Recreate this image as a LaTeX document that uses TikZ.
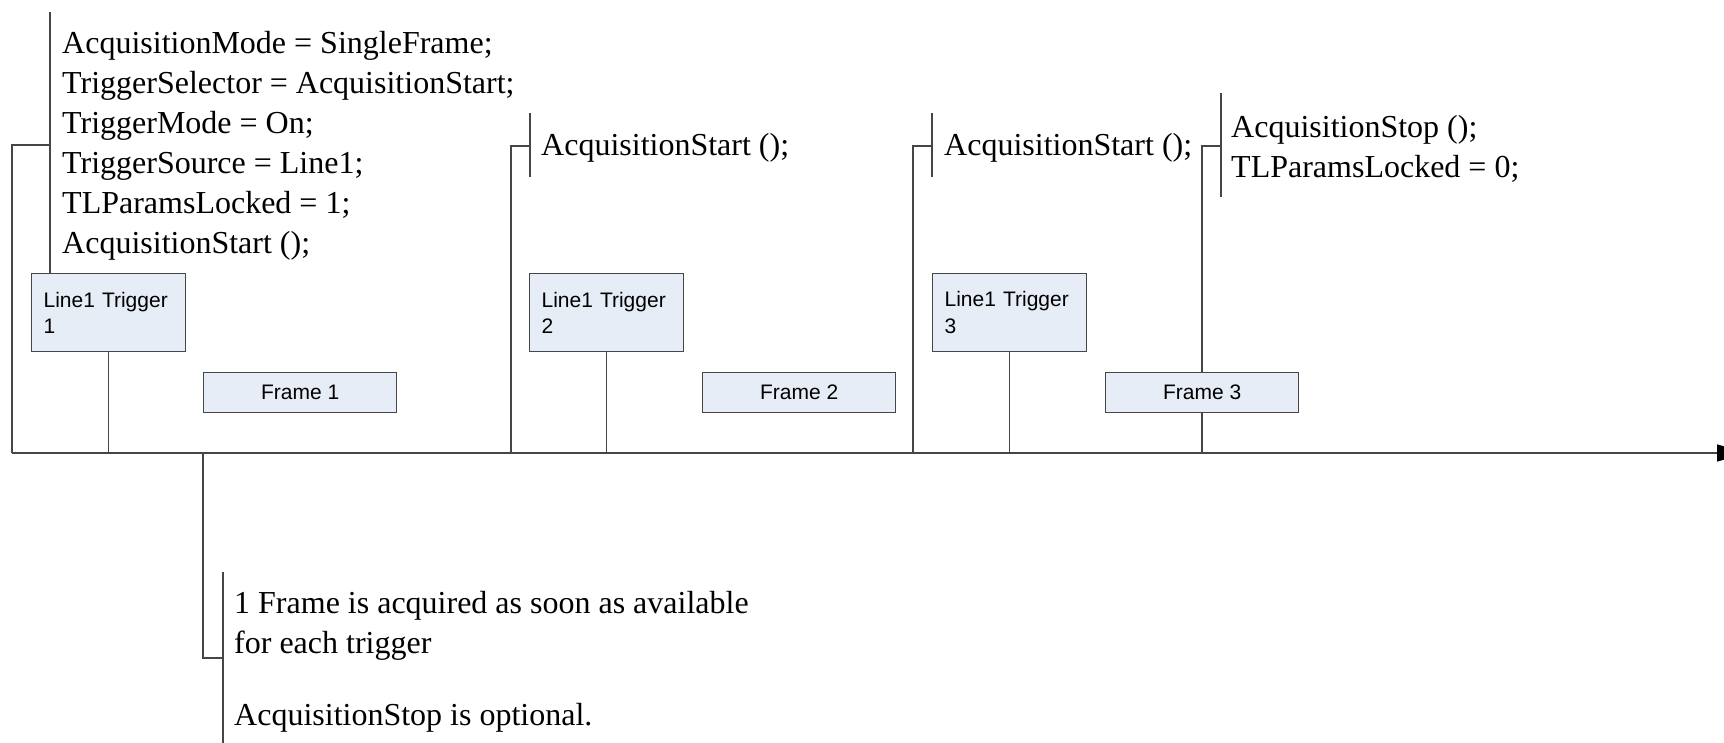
\documentclass[tikz,border=0pt]{standalone}
\usepackage{fontspec}
\setmainfont{Liberation Serif}
\newfontfamily\boxfont{Liberation Sans}
\usetikzlibrary{arrows.meta,backgrounds}
\definecolor{linegray}{RGB}{70,70,70}
\definecolor{boxfill}{RGB}{231,237,247}
\begin{document}
\begin{tikzpicture}[x=1pt,y=-1pt,
  line/.style={draw=linegray, line width=1.3pt},
  note/.style={font=\fontsize{32}{40}\selectfont, anchor=base west, inner sep=0pt, align=left, text=black},
  trig/.style={draw=linegray, line width=1.3pt, fill=boxfill, font=\boxfont\fontsize{21}{26.5}\selectfont, text width=130pt, align=left, minimum height=78pt, inner xsep=12pt, inner ysep=0pt, anchor=north west},
  frm/.style={draw=linegray, line width=1.3pt, fill=boxfill, font=\boxfont\fontsize{21}{25}\selectfont, minimum width=193pt, minimum height=40pt, inner sep=0pt, anchor=north west},
]
\useasboundingbox (0,0) rectangle (1724,742);

% boxes
\node[trig] (t1) at (31,273) {Line1 Trigger\\1};
\node[trig] (t2) at (529,273) {Line1 Trigger\\2};
\node[trig] (t3) at (932,273) {Line1 Trigger\\3};
\node[frm] (f1) at (203,372) {Frame 1};
\node[frm] (f2) at (702,372) {Frame 2};
\node[frm] (f3) at (1105,372) {Frame 3};

% annotation texts (base anchor = baseline of the last line)
\node[note] (n1) at (62,253) {AcquisitionMode = SingleFrame;\\TriggerSelector = AcquisitionStart;\\TriggerMode = On;\\TriggerSource = Line1;\\TLParamsLocked = 1;\\AcquisitionStart ();};
\node[note] (n2) at (541,155) {AcquisitionStart ();};
\node[note] (n3) at (944,155) {AcquisitionStart ();};
\node[note] (n4) at (1231,177) {AcquisitionStop ();\\TLParamsLocked = 0;};
\node[note] (n5) at (234,725) {1 Frame is acquired as soon as available\\for each trigger\\[32pt]AcquisitionStop is optional.};

% axis and annotation anchors
\coordinate (axL) at (12,453);
\coordinate (axR) at (1747,453);
\coordinate (a2) at (511,453);
\coordinate (a3) at (913,453);
\coordinate (a4) at (1202,453);
\coordinate (a5) at (203,453);

\coordinate (b1t) at (50,12);   \coordinate (b1b) at (50,273);  \coordinate (b1m) at (50,145);
\coordinate (b2t) at (530,113); \coordinate (b2b) at (530,177); \coordinate (b2m) at (530,146);
\coordinate (b3t) at (932,113); \coordinate (b3b) at (932,177); \coordinate (b3m) at (932,146);
\coordinate (b4t) at (1221,93); \coordinate (b4b) at (1221,197); \coordinate (b4m) at (1221,146);
\coordinate (b5t) at (223,572); \coordinate (b5b) at (223,745); \coordinate (b5m) at (223,658);

\begin{scope}[on background layer]
  \draw[line, -{Triangle[length=30pt,width=17pt,color=black,fill=black]}] (axL) -- (axR);
  % annotation bars
  \draw[line] (b1t) -- (b1b);
  \draw[line] (b2t) -- (b2b);
  \draw[line] (b3t) -- (b3b);
  \draw[line] (b4t) -- (b4b);
  \draw[line] (b5t) -- (b5b);
  % annotation connectors
  \draw[line] (axL) |- (b1m);
  \draw[line] (a2) |- (b2m);
  \draw[line] (a3) |- (b3m);
  \draw[line] (a4) |- (b4m);
  \draw[line] (a5) |- (b5m);
  % trigger connectors
  \draw[line] (t1.south) -- (t1.south |- axL);
  \draw[line] (t2.south) -- (t2.south |- axL);
  \draw[line] (t3.south) -- (t3.south |- axL);
\end{scope}
\end{tikzpicture}
\end{document}
